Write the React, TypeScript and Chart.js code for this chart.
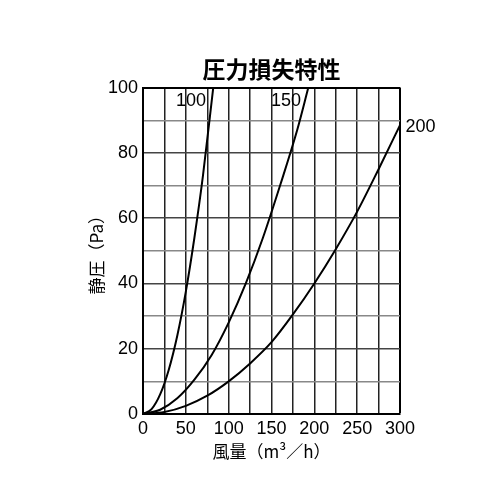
import React, { useEffect, useRef } from "react";
import { Chart, registerables } from "chart.js";

Chart.register(...registerables);

const TITLE = "圧力損失特性";
const X_TITLE = "風量（m³／h）";
const Y_TITLE = "静圧（Pa）";

const SERIES_NAMES = ["100", "150", "200"];

const flow100 = [0, 10, 20, 30, 40, 50, 60, 70, 82];
const pres100 = [0, 1.5, 6, 13.5, 24, 37.5, 54, 73, 100];

const flow150 = [0, 20, 40, 60, 80, 100, 120, 140, 160, 180, 193];
const pres150 = [0, 1.3, 4.8, 10.5, 18, 28, 40, 54, 70, 87, 100];

const flow200 = [0, 25, 50, 75, 100, 125, 150, 175, 200, 225, 250, 275, 300];
const pres200 = [0, 0.6, 2.5, 5.6, 10, 15.5, 22, 30.5, 40, 50.5, 62, 75, 88.5];

const X_MIN = 0, X_MAX = 300, X_STEP = 25, X_LABEL_STEP = 50;
const Y_MIN = 0, Y_MAX = 100, Y_STEP = 10, Y_LABEL_STEP = 20;

// label anchors in data units (flow, pressure)
const LABEL_ANCHORS: [number, number][] = [
  [56, 95.9],
  [167, 95.9],
  [324, 88],
];

const NUM_FONT = "'Liberation Sans', Arial, 'Noto Sans CJK JP', sans-serif";
const CJK_FONT = "'Noto Sans CJK JP', 'Liberation Sans', sans-serif";

const toPoints = (xs: number[], ys: number[]) => xs.map((x, i) => ({ x, y: ys[i] }));

const seriesLabelPlugin = {
  id: "seriesLabels",
  afterDatasetsDraw(chart: any) {
    const { ctx, scales } = chart;
    ctx.save();
    ctx.font = `18px ${NUM_FONT}`;
    ctx.fillStyle = "#000";
    ctx.textAlign = "center";
    ctx.textBaseline = "middle";
    SERIES_NAMES.forEach((name, i) => {
      const [fx, fy] = LABEL_ANCHORS[i];
      ctx.fillText(name, scales.x.getPixelForValue(fx), scales.y.getPixelForValue(fy));
    });
    ctx.restore();
  },
};

export default function App() {
  const ref = useRef<HTMLCanvasElement | null>(null);
  useEffect(() => {
    if (!ref.current) return;
    const lineStyle = {
      borderColor: "#000",
      borderWidth: 2,
      pointRadius: 0,
      fill: false,
      cubicInterpolationMode: "monotone" as const,
    };
    const chart = new Chart(ref.current, {
      type: "line",
      data: {
        datasets: [
          { label: SERIES_NAMES[0], data: toPoints(flow100, pres100), ...lineStyle },
          { label: SERIES_NAMES[1], data: toPoints(flow150, pres150), ...lineStyle },
          { label: SERIES_NAMES[2], data: toPoints(flow200, pres200), ...lineStyle },
        ],
      },
      options: {
        animation: false,
        responsive: false,
        devicePixelRatio: 1,
        layout: { padding: { left: 82, right: 100, top: 50, bottom: 30 } },
        plugins: {
          legend: { display: false },
          tooltip: { enabled: false },
          title: {
            display: true,
            fullSize: false,
            text: TITLE,
            color: "#000",
            font: { family: CJK_FONT, size: 23, weight: "bold" },
            padding: { top: 5, bottom: 5 },
          },
        },
        scales: {
          x: {
            type: "linear",
            min: X_MIN,
            max: X_MAX,
            afterFit: (s: any) => { s.height = 56; },
            ticks: {
              stepSize: X_STEP,
              autoSkip: false,
              maxRotation: 0,
              padding: 4,
              color: "#000",
              font: { family: NUM_FONT, size: 18 },
              callback: (v: any) => (Number(v) % X_LABEL_STEP === 0 ? String(v) : ""),
            },
            grid: {
              drawTicks: false,
              color: (c: any) => (c.tick && (c.tick.value === X_MAX) ? "#000" : "#222"),
              lineWidth: (c: any) => (c.tick && (c.tick.value === X_MAX) ? 2 : 1.5),
            },
            border: { color: "#000", width: 2 },
            title: {
              display: true,
              text: X_TITLE,
              color: "#000",
              font: { family: CJK_FONT, size: 17 },
              padding: { top: 4, bottom: 8 },
            },
          },
          y: {
            type: "linear",
            min: Y_MIN,
            max: Y_MAX,
            afterFit: (s: any) => { s.width = 61; },
            ticks: {
              stepSize: Y_STEP,
              autoSkip: false,
              padding: 5,
              color: "#000",
              font: { family: NUM_FONT, size: 18 },
              callback: (v: any) => (Number(v) % Y_LABEL_STEP === 0 ? String(v) : ""),
            },
            grid: {
              drawTicks: false,
              color: (c: any) => {
                const v = c.tick ? c.tick.value : 0;
                if (v === Y_MAX) return "#000";
                return v % Y_LABEL_STEP === 0 ? "#444" : "#888";
              },
              lineWidth: (c: any) => (c.tick && c.tick.value === Y_MAX ? 2 : 1.4),
            },
            border: { color: "#000", width: 2 },
            title: {
              display: true,
              text: Y_TITLE,
              color: "#000",
              font: { family: CJK_FONT, size: 17 },
              padding: { top: 4, bottom: 4 },
            },
          },
        },
      },
      plugins: [seriesLabelPlugin],
    });
    return () => chart.destroy();
  }, []);
  return (
    <div style={{ position: "fixed", left: 0, top: 0, width: 500, height: 500, background: "#fff" }}>
      <canvas ref={ref} width={500} height={500} style={{ width: 500, height: 500 }} />
    </div>
  );
}
